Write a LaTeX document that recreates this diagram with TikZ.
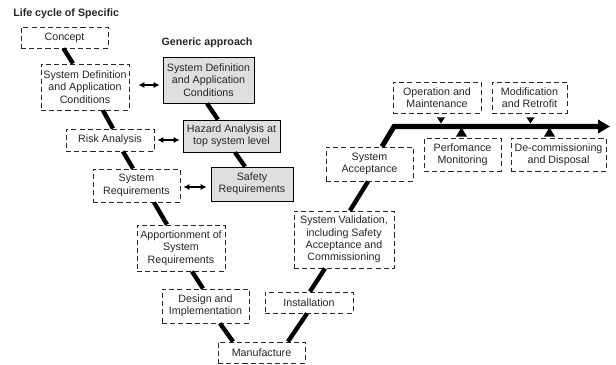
\documentclass[tikz,border=0pt]{standalone}
\usepackage{fontspec}
\setmainfont{Liberation Sans}
\usepackage{tikz}
\usetikzlibrary{arrows.meta,calc,positioning}

\begin{document}
\begin{tikzpicture}[x=0.025cm, y=-0.025cm,
  every node/.style={font=\fontsize{7.6}{8.8}\selectfont, align=center, text=black!85, inner sep=0pt},
  sz/.style 2 args={minimum width=#1*0.025cm, minimum height=#2*0.025cm},
  spec/.style={draw=black!85, dash pattern=on 3.6pt off 2.2pt, line width=0.65pt, fill=white},
  gen/.style={draw, line width=0.6pt, fill=gray!25},
  link/.style={line width=3.1pt},
  dbl/.style={{Latex[length=4.2pt,width=4.4pt]}-{Latex[length=4.2pt,width=4.4pt]}, line width=1pt}]
\useasboundingbox (0,0) rectangle (616,365);
% --- life cycle of specific ---
\node[anchor=west, font=\bfseries\fontsize{7.6}{8.8}\selectfont] (title) at (13,14) {Life cycle of Specific};
\node[spec, sz={87}{21}] (concept) at (64.5,37.5) {Concept};
\node[spec, sz={88}{46}] (sdl) at (85,87) {System Definition\\and Application\\Conditions};
\node[spec, sz={88}{22}] (risk) at (110,140) {Risk Analysis};
\node[spec, sz={87}{33}] (sysreq) at (136.5,185.5) {System\\Requirements};
\node[spec, sz={88}{46}] (apport) at (181,248) {Apportionment of\\System\\Requirements};
\node[spec, sz={87}{34}] (design) at (205.5,306) {Design and\\Implementation};
\node[spec, sz={87}{21}] (manuf) at (261.5,352.5) {Manufacture};
\node[spec, sz={88}{21}] (install) at (309,302.5) {Installation};
\node[spec, sz={100}{57}] (sysval) at (344,239.5) {System Validation,\\including Safety\\Acceptance and\\Commissioning};
\node[spec, sz={87}{34}] (sysacc) at (369.5,164) {System\\Acceptance};
\node[spec, sz={88}{31}] (opm) at (437,97.5) {Operation and\\Maintenance};
\node[spec, sz={75}{31}] (modr) at (529.5,97.5) {Modification\\and Retrofit};
\node[spec, sz={77}{33}] (perf) at (462.5,154.5) {Perfomance\\Monitoring};
\node[spec, sz={95}{33}] (decom) at (558.5,154.5) {De-commissioning\\and Disposal};
% --- generic approach ---
\node[font=\bfseries\fontsize{7.6}{8.8}\selectfont] (genlabel) at (207,43) {Generic approach};
\node[gen, sz={91}{46}] (sdg) at (208.5,80) {System Definition\\and Application\\Conditions};
\node[gen, sz={97}{32}] (hazard) at (231.5,136) {Hazard Analysis at\\top system level};
\node[gen, sz={82}{34}] (safety) at (252,184) {Safety\\Requirements};
% --- V links ---
\draw[link] ($(concept.south)+(-1,0)$) -- ($(sdl.north)+(-12,0)$);
\draw[link] ($(sdl.south)+(18,0)$) -- ($(risk.north)+(3,0)$);
\draw[link] ($(risk.south)+(13,0)$) -- ($(sysreq.north)+(-3.5,0)$);
\draw[link] ($(sysreq.south)+(17.5,0)$) -- ($(apport.north)+(-14,0)$);
\draw[link] ($(apport.south)+(11,0)$) -- ($(design.north)+(-2.5,0)$);
\draw[link] ($(design.south)+(14.5,0)$) -- ($(manuf.north)+(-28.5,0)$);
\draw[link] ($(manuf.north)+(26.5,0)$) -- ($(install.south)+(-2,0)$);
\draw[link] ($(install.north)+(1,0)$) -- ($(sysval.south)+(-19,0)$);
\draw[link] ($(sysval.north)+(6,0)$) -- ($(sysacc.south)+(-1.5,0)$);
\draw[link] ($(sdg.south)+(-1.5,0)$) -- ($(hazard.north)+(-13.5,0)$);
\draw[link] ($(hazard.south)+(3.5,0)$) -- ($(safety.north)+(-7,0)$);
% --- operation line ---
\coordinate (bend) at (394,126.5);
\coordinate (lineend) at (610,126.5);
\draw[line width=3.6pt, line join=miter, -{Triangle[length=0.3cm,width=0.33cm]}]
  ($(sysacc.north)+(12.5,0)$) -- (bend) -- (lineend);
\fill ($(opm.south)+(0,4)$) -- ++(8,0) -- ++(-4,6) -- cycle;
\fill ($(modr.south)+(-3,4)$) -- ++(8,0) -- ++(-4,6) -- cycle;
\fill ($(perf.north)+(-6.5,-1)$) -- ++(11,0) -- ++(-5.5,-9) -- cycle;
\fill ($(decom.north)+(-14.5,-1)$) -- ++(11,0) -- ++(-5.5,-9) -- cycle;
% --- links between both ---
\draw[dbl] ($(sdl.east)+(9,-2)$) -- ($(sdg.west |- sdl.east)+(-3,-2)$);
\draw[dbl] ($(risk.east)+(3,0)$) -- ($(hazard.west |- risk.east)+(-3,0)$);
\draw[dbl] ($(sysreq.east)+(3,1.5)$) -- ($(safety.west |- sysreq.east)+(-4,1.5)$);
\end{tikzpicture}
\end{document}
